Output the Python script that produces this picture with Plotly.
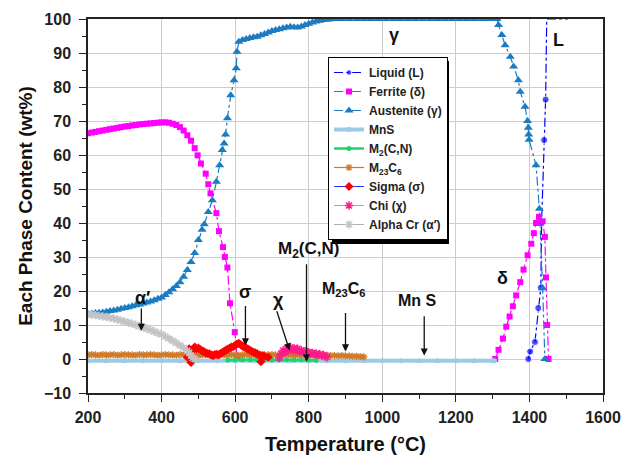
import plotly.graph_objects as go

# ---------------- data ----------------
liquid_T = [1397, 1402, 1415, 1424, 1431, 1433, 1440, 1444, 1447, 1505]
liquid_v = [0, 2.2, 5.0, 15.0, 21.0, 40.0, 64.4, 76.3, 100, 100]

ferrite_T = [200, 210, 220, 230, 240, 250, 260, 270, 280, 290, 300, 310, 320, 330, 340,
             350, 360, 370, 380, 390, 400, 410, 420, 430, 440, 450, 460, 470, 480, 490,
             498, 507, 520, 527, 533, 549, 556, 567, 572, 579, 586, 599, 606,
             None,
             1307, 1316, 1328, 1337, 1346, 1355, 1364, 1375, 1384, 1395, 1405, 1412, 1418,
             1426, 1436, 1442, 1445, 1448, 1452]
ferrite_v = [66.4, 66.6, 66.8, 67.0, 67.2, 67.4, 67.6, 67.8, 68.0, 68.2, 68.4, 68.5, 68.7, 68.8, 69.0,
             69.1, 69.2, 69.3, 69.4, 69.5, 69.6, 69.6, 69.5, 69.2, 68.8, 68.2, 67.2, 65.8, 64.2, 62.0,
             59.9, 57.5, 54.5, 51.4, 48.7, 42.9, 37.6, 32.9, 30.0, 26.9, 16.4, 7.9, 0,
             None,
             0, 2.7, 6.0, 9.5, 12.5, 15.5, 18.7, 22.6, 26.3, 30.5, 33.9, 37.0, 40.0,
             41.8, 40.5, 35.9, 24.0, 10.0, 0]

austenite_T = [200, 210, 220, 230, 240, 250, 260, 270, 280, 290, 300, 310, 320, 330, 340,
               350, 360, 370, 380, 390, 400, 410, 420, 430, 440, 450, 460, 470, 480, 490,
               500, 510, 516, 527, 538, 549, 558, 565, 570, 574, 579, 588, 597, 603, 605, 610,
               620, 630, 640, 650, 660, 670, 680, 690, 700, 710, 720, 730, 740, 750, 760,
               770, 780, 790, 800, 810, 820, 830, 840, 850, 860, 870, 890, 910, 930, 950,
               970, 990, 1010, 1030, 1050, 1070, 1090, 1110, 1130, 1150, 1170, 1190, 1210,
               1230, 1250, 1270, 1290, 1300, 1312, 1316, 1325, 1334, 1348, 1357, 1370, 1375,
               1388, 1395, 1397, 1398, 1399, 1418, 1427, 1436, 1442]
austenite_v = [13.3, 13.4, 13.5, 13.6, 13.7, 13.9, 14.1, 14.3, 14.5, 14.8, 15.0, 15.2, 15.5, 15.8, 16.0,
               16.3, 16.6, 16.9, 17.3, 17.7, 18.1, 18.8, 19.6, 20.5, 21.5, 22.6, 24.2, 26.2, 28.5, 31.2,
               35.0, 38.0, 39.6, 43.2, 46.7, 52.1, 57.0, 61.5, 63.4, 66.0, 70.8, 77.6, 82.0, 85.5, 90.4, 93.3,
               93.8, 94.1, 94.4, 94.6, 94.8, 95.2, 95.6, 96.0, 96.5, 96.8, 97.0, 97.3, 97.5, 97.7, 97.6,
               97.5, 97.8, 98.2, 98.6, 99.0, 99.3, 99.5, 99.7, 99.8, 99.9, 100, 100, 100, 100, 100,
               100, 100, 100, 100, 100, 100, 100, 100, 100, 100, 100, 100, 100,
               100, 100, 100, 100, 100, 100, 98.2, 95.3, 92.3, 88.9, 86.0, 82.0, 78.6,
               74.2, 70.0, 68.0, 66.0, 64.5, 57.0, 44.2, 20.8, 0]

mns_T = [200, 250, 300, 350, 400, 450, 500, 550, 600, 650, 700, 750, 800, 850, 900,
         950, 1000, 1050, 1100, 1150, 1200, 1250, 1300, 1305]
mns_v = [-0.5, -0.5, -0.5, -0.5, -0.5, -0.5, -0.5, -0.5, -0.5, -0.5, -0.5, -0.5, -0.5, -0.5, -0.5,
         -0.5, -0.5, -0.5, -0.5, -0.5, -0.5, -0.5, -0.5, -0.5]

m2cn_T = [580, 600, 620, 640, 660, 680, 700, 720, 740, 760, 780, 800, 820]
m2cn_v = [-0.3, -0.2, -0.2, -0.2, -0.2, -0.2, -0.2, -0.2, -0.2, -0.2, -0.2, -0.3, -0.4]

m23c6_T = [200, 210, 220, 230, 240, 250, 260, 270, 280, 290, 300, 310, 320, 330, 340,
           350, 360, 370, 380, 390, 400, 410, 420, 430, 440, 450, 460, 470, 480, 490,
           500, 510, 520, 530, 540, 550, 560, 570, 580, 590, 600, 610, 620, 630, 640,
           650, 660, 670, 680, 690, 700, 710, 720, 730, 740, 750, 760, 770, 780, 790,
           800, 810, 820, 830, 840, 850, 860, 870, 880, 890, 900, 910, 920, 930, 940, 950]
m23c6_v = [1.2, 1.3, 1.2, 1.1, 1.3, 1.2, 1.2, 1.3, 1.1, 1.2, 1.3, 1.2, 1.2, 1.1, 1.3,
           1.2, 1.2, 1.3, 1.2, 1.1, 1.2, 1.3, 1.2, 1.2, 1.1, 1.3, 1.2, 1.2, 1.3, 1.2,
           1.1, 1.2, 1.3, 1.2, 1.2, 1.1, 1.3, 1.2, 1.2, 1.3, 1.2, 1.1, 1.2, 1.3, 1.2,
           1.2, 1.1, 1.3, 1.2, 1.2, 1.3, 1.2, 1.1, 1.2, 1.3, 1.2, 1.2, 1.1, 1.2, 1.2,
           1.1, 1.2, 1.1, 1.1, 1.0, 1.1, 1.0, 1.0, 0.9, 1.0, 0.9, 0.9, 0.8, 0.8, 0.7, 0.6]

sigma_T = [470, 475, 480, 485, 490, 495, 500, 505, 510, 515, 520, 525, 530, 535, 540,
           545, 550, 555, 560, 565, 570, 575, 580, 585, 590, 595, 600, 605, 610, 615,
           620, 625, 630, 635, 640, 645, 650, 655, 660, 665, 670, 675, 680, 690]
sigma_v = [0.5, 3.0, -1.0, 2.5, 3.5, 3.0, 3.2, 2.8, 2.4, 2.2, 1.8, 1.6, 1.5, 1.2, 1.0,
           1.3, 1.4, 1.2, 1.6, 1.9, 2.3, 2.6, 2.9, 3.2, 3.5, 3.6, 4.0, 4.4, 4.6, 4.2,
           3.8, 3.5, 3.2, 2.9, 2.6, 2.3, 2.0, 1.8, 1.5, 1.2, -0.8, 1.0, 0.8, 0.5]

chi_T = [720, 725, 730, 735, 740, 745, 750, 755, 760, 765, 770, 775, 780, 785, 790,
         795, 800, 805, 810, 815, 820, 825, 830, 835, 840, 845, 850]
chi_v = [0.3, 1.5, 2.5, 2.0, 3.0, 2.6, 3.4, 2.8, 3.2, 2.5, 3.0, 2.2, 2.6, 2.0, 2.3,
         1.8, 2.0, 1.6, 1.8, 1.4, 1.6, 1.2, 1.4, 1.0, 1.2, 0.8, 0.5]

alpha_T = [200, 210, 220, 230, 240, 250, 260, 270, 280, 290, 300, 310, 320, 330, 340,
           350, 360, 370, 380, 390, 400, 410, 420, 430, 440, 450, 460, 470, 475, 480, 485, 490]
alpha_v = [13.2, 13.0, 12.9, 12.7, 12.5, 12.4, 12.1, 11.9, 11.6, 11.3, 11.0, 10.7, 10.4, 10.0, 9.6,
           9.3, 8.9, 8.5, 8.1, 7.6, 7.2, 6.6, 6.0, 5.4, 4.8, 4.0, 3.3, 2.4, 1.8, 1.0, 0.3, 0]

x_ticks = [200, 400, 600, 800, 1000, 1200, 1400, 1600]
y_ticks = [-10, 0, 10, 20, 30, 40, 50, 60, 70, 80, 90, 100]

FONT = "Liberation Sans, Arial, sans-serif"

fig = go.Figure()

def add(name, T, v, color, dash, symbol, msize, line_color=None, lw=1.2, mline=None):
    marker = dict(symbol=symbol, size=msize, color=color)
    if mline:
        marker["line"] = dict(color=color, width=mline)
    fig.add_trace(go.Scatter(
        x=T, y=v, name=name, mode="lines+markers",
        line=dict(color=line_color or color, width=lw, dash=dash),
        marker=marker, connectgaps=False))

liq_sizes = [0 if v >= 100 else 7 for v in liquid_v]
fig.add_trace(go.Scatter(
    x=liquid_T, y=liquid_v, name="Liquid (L)", mode="lines+markers",
    line=dict(color="#0000ff", width=1.2, dash="dashdot"),
    marker=dict(symbol="circle", size=liq_sizes, color="#0000ff")))
add("Ferrite (δ)", ferrite_T, ferrite_v, "#ff00ff", "dashdot", "square", 6)
add("Austenite (γ)", austenite_T, austenite_v, "#1c7cc2", "dashdot", "triangle-up", 8)
add("MnS", mns_T, mns_v, "#9ccbe6", "solid", "circle", 5, lw=4)
add("M<sub>2</sub>(C,N)", m2cn_T, m2cn_v, "#1fd36b", "solid", "circle", 5, lw=2.5)
add("M<sub>23</sub>C<sub>6</sub>", m23c6_T, m23c6_v, "#cf7a2a", "solid", "asterisk-open", 6, mline=1.3)
add("Sigma (σ)", sigma_T, sigma_v, "#ff0000", "solid", "diamond", 7, line_color="#2030ff", lw=1)
add("Chi (χ)", chi_T, chi_v, "#ff1a8c", "solid", "asterisk-open", 7, line_color="#aaaaaa", lw=1, mline=1.5)
add("Alpha Cr (α′)", alpha_T, alpha_v, "#c4c4c4", "solid", "asterisk-open", 7, line_color="#b0b0b0", lw=1, mline=1.5)

# ---------------- annotations ----------------
ann = []
def label(x, y, text, size):
    ann.append(dict(x=x, y=y, xref="x", yref="y", text=text, showarrow=False,
                    font=dict(family=FONT, size=size, color="#111", weight="bold")))
def arrow(x0, y0, x1, y1):
    ann.append(dict(x=x1, y=y1, ax=x0, ay=y0, xref="x", yref="y", axref="x", ayref="y",
                    text="", showarrow=True, arrowhead=2, arrowsize=1.1, arrowwidth=1.3,
                    arrowcolor="#111", standoff=0, startstandoff=0))

label(1033, 95.3, "γ", 18)
label(1478, 93.8, "L", 18)
label(348, 17.8, "α′", 18)
arrow(345, 15.3, 345, 8.3)
label(626, 19.6, "σ", 18)
arrow(628, 16.0, 628, 4.0)
label(718, 17.5, "χ", 18)
arrow(712, 14.5, 748, 2.5)
label(799, 32.0, "M<sub>2</sub>(C,N)", 17)
arrow(794, 28.3, 794, -0.8)
label(896, 20.4, "M<sub>23</sub>C<sub>6</sub>", 16)
arrow(900, 14.0, 900, 2.2)
label(1097, 17.2, "Mn S", 16)
arrow(1114, 13.0, 1114, 1.0)
label(1328, 23.9, "δ", 18)

# The page body adds an 8px margin all round; the figure is sized so that the
# page does not overflow the 629x463 window.  Plot area on page: x 88..603, y 19..393.
PX0, PX1, PY0, PY1 = 88, 603, 19, 393
def px(v):
    return (v - PX0) / (PX1 - PX0)
def py(v):
    return (PY1 - v) / (PY1 - PY0)

# legend drop shadow (legend box itself is drawn by plotly on top)
shapes = [dict(type="rect", xref="paper", yref="paper",
               x0=px(332), x1=px(449), y0=py(244), y1=py(61),
               fillcolor="black", line=dict(width=0), layer="above")]

axis_common = dict(showline=True, linecolor="#222", linewidth=1.5, mirror=True,
                   showgrid=True, gridcolor="#cdcdcd", gridwidth=1,
                   ticks="outside", ticklen=7, tickwidth=1.3, tickcolor="#222",
                   zeroline=False, ticklabeloverflow="allow", automargin=False,
                   tickfont=dict(family=FONT, size=16, color="#222", weight="bold"))

fig.update_layout(
    width=613, height=447,
    margin=dict(l=80, r=18, t=11, b=62, pad=0),
    plot_bgcolor="white", paper_bgcolor="white",
    font=dict(family=FONT, color="#222"),
    xaxis=dict(range=[200, 1600], tickvals=x_ticks, ticklabelstandoff=2,
               minor=dict(dtick=100, tick0=200, ticks="outside", ticklen=4, tickcolor="#222", showgrid=False),
               title=dict(text="Temperature (°C)", standoff=12,
                          font=dict(family=FONT, size=20, color="#111", weight="bold")),
               **axis_common),
    yaxis=dict(range=[-10, 100], tickvals=y_ticks, ticklabelstandoff=5,
               minor=dict(dtick=5, tick0=0, ticks="outside", ticklen=4, tickcolor="#222", showgrid=False),
               title=dict(text="Each Phase Content (wt%)", standoff=6,
                          font=dict(family=FONT, size=19, color="#111", weight="bold")),
               **axis_common),
    legend=dict(x=px(328), y=py(57), xanchor="left", yanchor="top",
                bgcolor="white", bordercolor="black", borderwidth=1,
                font=dict(family=FONT, size=12, color="#222", weight="bold"),
                itemwidth=30, tracegroupgap=0),
    annotations=ann,
    shapes=shapes,
    showlegend=True,
)

fig.write_html("out.html")
